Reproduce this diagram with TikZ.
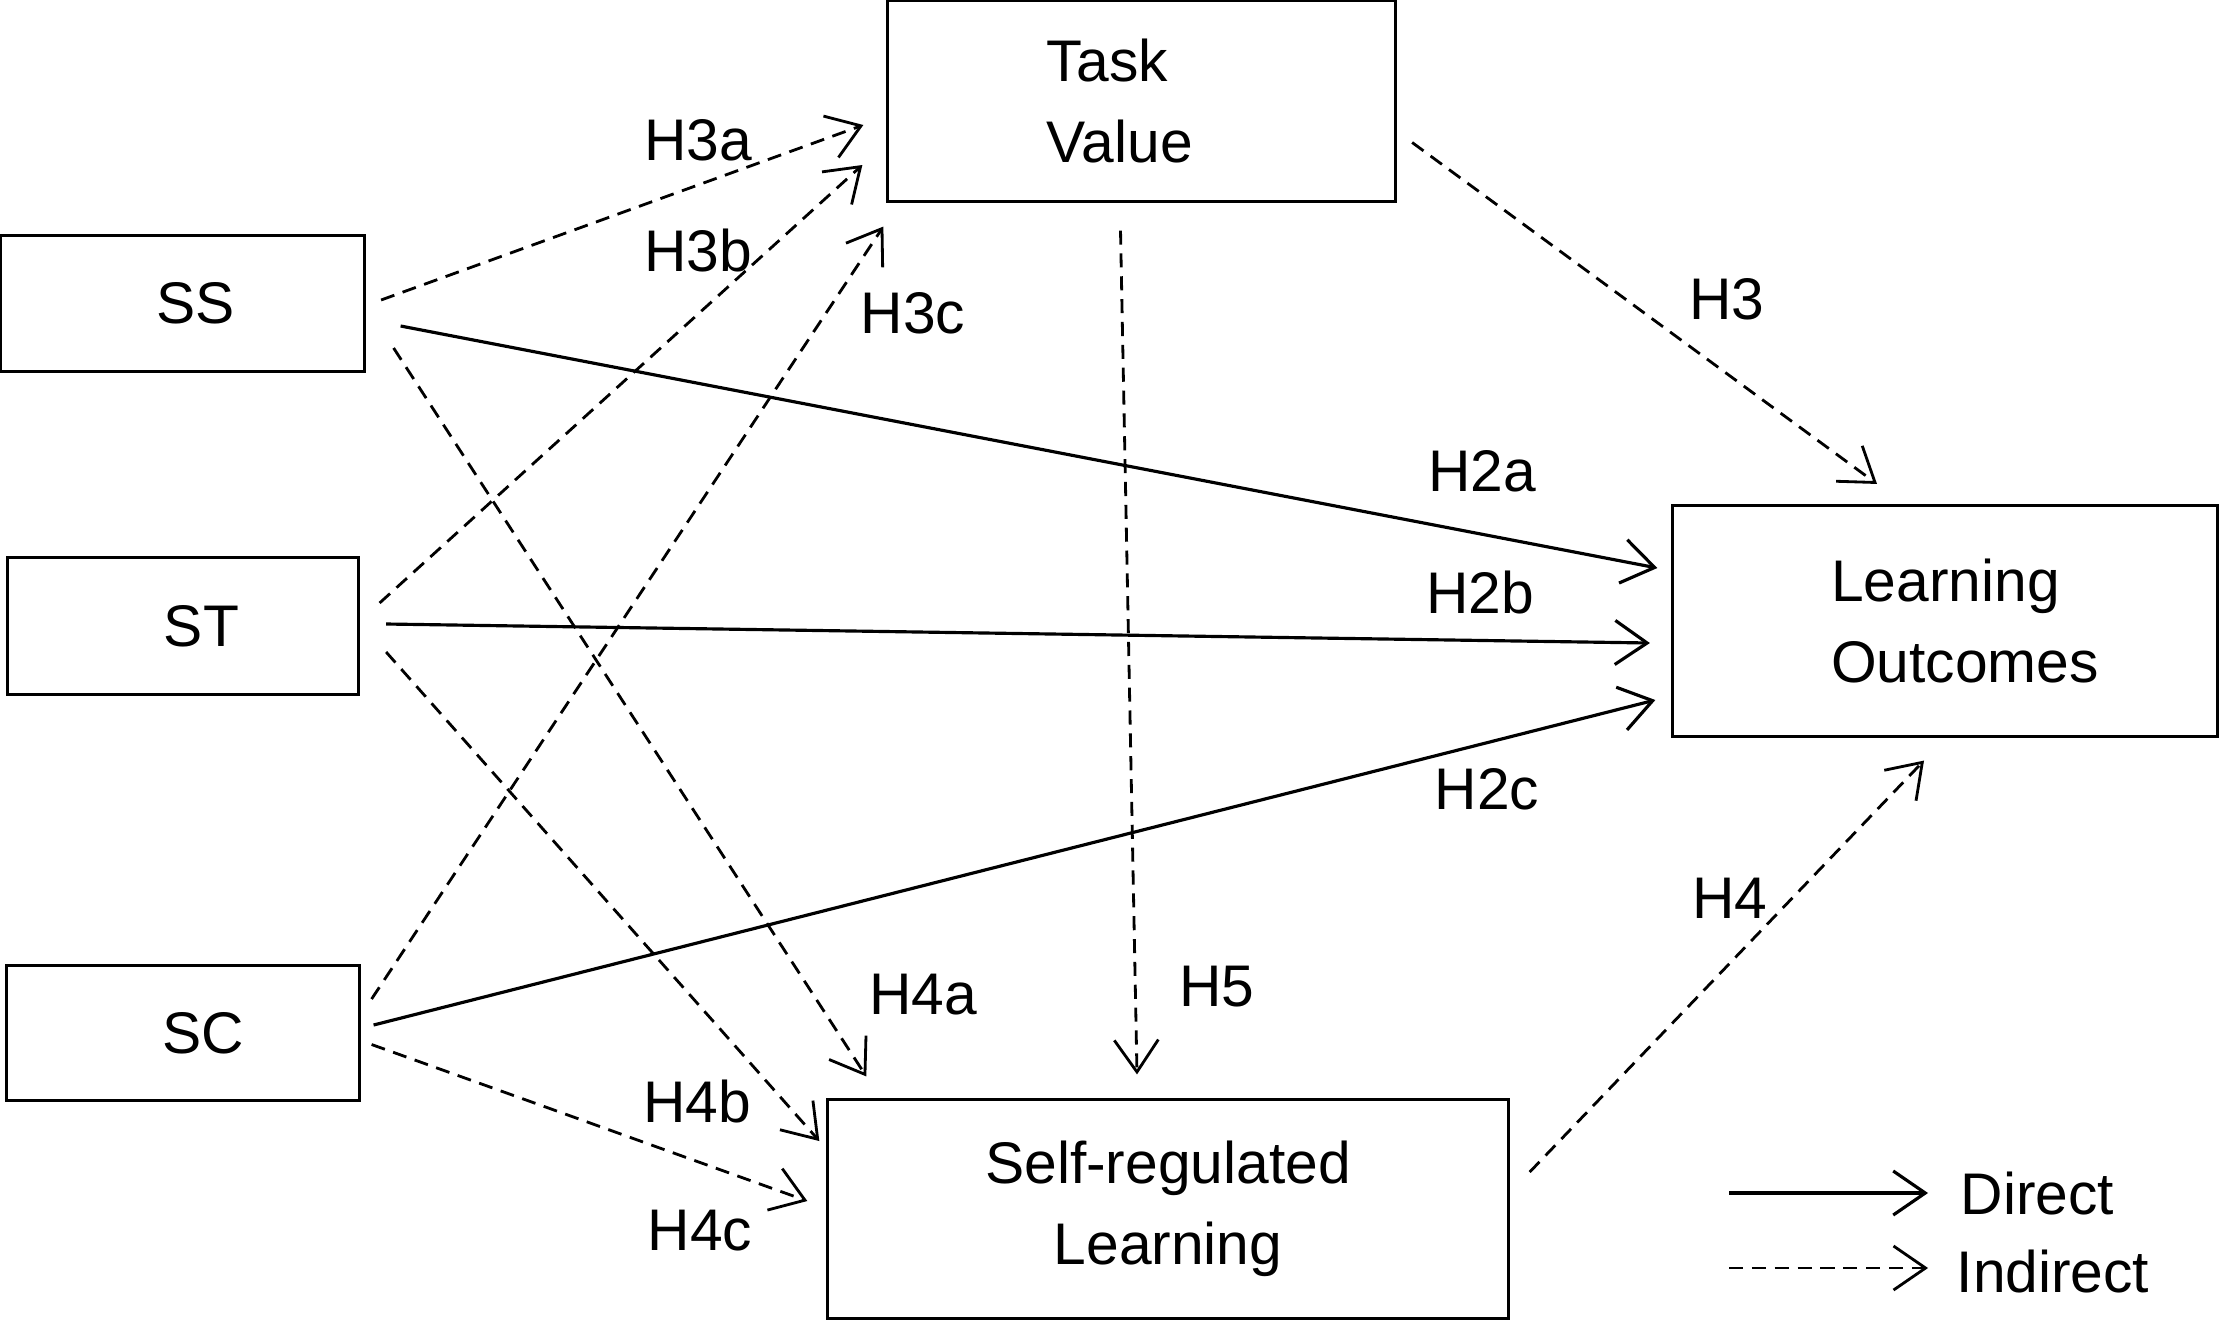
\documentclass[tikz,border=0pt]{standalone}
\usepackage{fontspec}
\setmainfont{Liberation Sans}
\usetikzlibrary{arrows.meta, positioning}

\begin{document}
\begin{tikzpicture}[
    x=0.01cm, y=-0.01cm,
    font=\fontsize{16.7}{23}\selectfont,
    % Node styles
    varbox/.style={
        rectangle,
        draw=black,
        line width=0.85pt,
        align=left,
        inner sep=0pt
    },
    hyplabel/.style={
        inner sep=0pt
    },
    legendtext/.style={
        inner sep=0pt,
        anchor=west
    },
    direct/.style={
        -{Straight Barb[length=3.2mm, width=4.4mm]},
        line width=0.9pt
    },
    indirect/.style={
        -{Straight Barb[length=3.2mm, width=4.4mm]},
        line width=0.8pt,
        dash pattern=on 4pt off 2.5pt
    }
]
\useasboundingbox (0,0) rectangle (2219,1321);

% === Antecedents (Left) ===
\node[varbox, align=right, text width=1.05cm, minimum width=3.63cm, minimum height=1.35cm] (ss) at (182.5,303.5) {SS};
\node[varbox, align=right, text width=1.12cm, minimum width=3.50cm, minimum height=1.36cm] (st) at (183,626) {ST};
\node[varbox, align=right, text width=1.22cm, minimum width=3.52cm, minimum height=1.34cm] (sc) at (183,1033) {SC};

% === Mediators and outcome ===
\node[varbox, text width=1.89cm, minimum width=5.07cm, minimum height=2.00cm] (taskval) at (1141.5,101) {Task\\Value};
\node[varbox, minimum width=5.45cm, minimum height=2.30cm] (outcomes) at (1945,621) {\hspace*{0.4cm}Learning\\\hspace*{0.4cm}Outcomes};
\node[varbox, align=center, minimum width=6.80cm, minimum height=2.18cm] (selfreg) at (1168,1209) {Self-regulated\\Learning};

% === Arrows: to Task Value ===
\draw[indirect] ([shift={(15.5,-3.5)}]ss.east) -- ([shift={(-23,24)}]taskval.west);
\draw[indirect] ([shift={(20,-23)}]st.east) -- ([shift={(-24,64)}]taskval.west);
\draw[indirect] ([shift={(11,-34)}]sc.east) -- ([shift={(-3,24)}]taskval.south west);

% === Arrows: direct to Learning Outcomes ===
\draw[direct] ([shift={(35,22.5)}]ss.east) -- ([shift={(-13.5,-53)}]outcomes.west);
\draw[direct] ([shift={(26.5,-2)}]st.east) -- ([shift={(-21,22)}]outcomes.west);
\draw[direct] ([shift={(13,-8)}]sc.east) -- ([shift={(-15.5,79)}]outcomes.west);

% === Arrows: to Self-regulated Learning ===
\draw[indirect] ([shift={(28,44.5)}]ss.east) -- ([shift={(40,-22)}]selfreg.north west);
\draw[indirect] ([shift={(26.5,26)}]st.east) -- ([shift={(-7,-68)}]selfreg.west);
\draw[indirect] ([shift={(11,11.5)}]sc.east) -- ([shift={(-19,-8)}]selfreg.west);
\draw[indirect] ([shift={(-21,28)}]taskval.south) -- ([shift={(-31,-24)}]selfreg.north);

% === Arrows: mediators to outcome ===
\draw[indirect] ([shift={(15.5,41.5)}]taskval.east) -- ([shift={(-68,-20.5)}]outcomes.north);
\draw[indirect] ([shift={(20,-37)}]selfreg.east) -- ([shift={(-21,23)}]outcomes.south);

% === Hypothesis labels ===
\node[hyplabel] (h3a) at (698,140) {H3a};
\node[hyplabel] (h3b) at (698,251) {H3b};
\node[hyplabel] (h3c) at (913,313) {H3c};
\node[hyplabel] (h3) at (1727,299) {H3};
\node[hyplabel] (h2a) at (1482,471) {H2a};
\node[hyplabel] (h2b) at (1480,592) {H2b};
\node[hyplabel] (h2c) at (1487,789) {H2c};
\node[hyplabel] (h4) at (1730,898) {H4};
\node[hyplabel] (h5) at (1217,987) {H5};
\node[hyplabel] (h4a) at (923,995) {H4a};
\node[hyplabel] (h4b) at (697,1101) {H4b};
\node[hyplabel] (h4c) at (700,1231) {H4c};

% === Legend ===
\coordinate (dirstart) at (1729,1193);
\coordinate (dirend) at (1928,1193);
\coordinate (indstart) at (1729,1268);
\coordinate (indend) at (1928,1268);
\draw[direct] (dirstart) -- (dirend);
\draw[indirect] (indstart) -- (indend);
\node[legendtext] (dirlabel) at (1960,1193) {Direct};
\node[legendtext] (indlabel) at (1956,1271) {Indirect};

\end{tikzpicture}
\end{document}
